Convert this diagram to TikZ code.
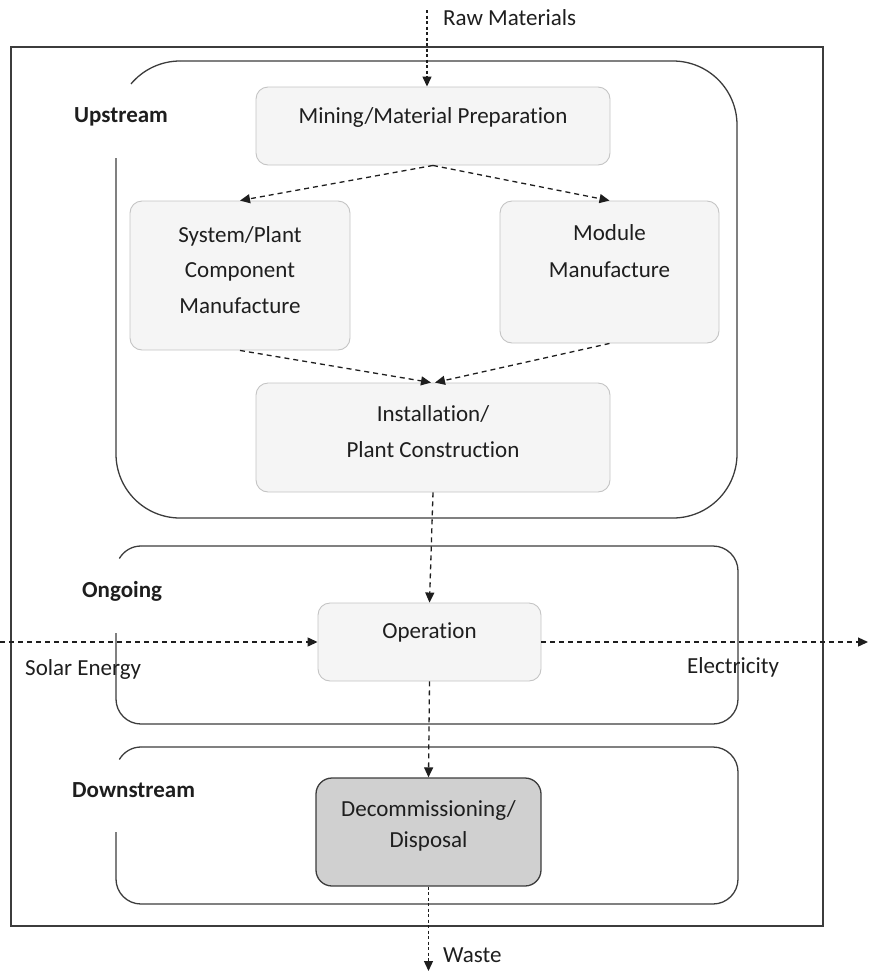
\documentclass[tikz,border=0pt]{standalone}
\usepackage{fontspec}
\setmainfont{Carlito}[Ligatures={NoCommon}]
\usetikzlibrary{arrows.meta}
\definecolor{boxfill}{HTML}{F5F5F5}
\definecolor{boxline}{HTML}{C4C4C4}
\definecolor{darkfill}{HTML}{D0D0D0}
\definecolor{ink}{HTML}{1E1E1E}
\definecolor{frame}{HTML}{3C3C3C}
\begin{document}
\begin{tikzpicture}[x=1pt,y=-1pt,
  lightbox/.style={draw=boxline, line width=0.9pt, fill=boxfill, rounded corners=12pt, inner sep=0pt},
  darkbox/.style={draw=frame, line width=1.3pt, fill=darkfill, rounded corners=16pt, inner sep=0pt},
  boxtext/.style={anchor=base, inner sep=0pt, text=ink, font=\fontsize{23}{28}\selectfont},
  lbl/.style={anchor=base west, inner sep=0pt, text=ink, font=\fontsize{23}{28}\selectfont},
  stage/.style={anchor=base west, inner sep=0pt, text=ink, font=\fontsize{23}{28}\selectfont\bfseries},
  container/.style={draw=frame, line width=1.3pt},
  flow/.style={draw=ink, line width=1.3pt, dash pattern=on 5pt off 4pt, -{Triangle[length=10pt,width=9pt]}},
  fineflow/.style={flow, dash pattern=on 3pt off 2.5pt},
]
\useasboundingbox (0,0) rectangle (869,975);

% outer frame
\draw[container, line width=1.4pt] (11,47) rectangle (823,926);

% stage containers
\draw[container, rounded corners=64pt] (116,158) -- (116,518) -- (737,518) -- (737,61) -- (180,61);
\draw[container] (180,61) .. controls (161.1,61) and (143.2,69.4) .. (131,83.9);

\draw[container, rounded corners=25pt] (116,633) -- (116,724) -- (738,724) -- (738,546) -- (141,546);
\draw[container] (141,546) .. controls (132.07,546) and (123.8,550.8) .. (119.35,558.5);

\draw[container, rounded corners=25pt] (116,832) -- (116,904) -- (738,904) -- (738,747) -- (141,747);
\draw[container] (141,747) .. controls (132.07,747) and (123.8,751.8) .. (119.35,759.5);

% process boxes
\node[lightbox, minimum width=354pt, minimum height=78pt] (mining) at (433,126) {};
\node[lightbox, minimum width=220pt, minimum height=149pt] (system) at (240,275.5) {};
\node[lightbox, minimum width=219pt, minimum height=142pt] (module) at (609.5,272) {};
\node[lightbox, minimum width=354pt, minimum height=109pt] (install) at (433,437.5) {};
\node[lightbox, minimum width=223pt, minimum height=78pt] (op) at (429.5,642) {};
\node[darkbox, minimum width=225pt, minimum height=108pt] (decom) at (428.5,832) {};

% free ends
\coordinate (rawtop) at (427,10);
\coordinate (wasteend) at (428.5,971);
\coordinate (solarstart) at (0,642);
\coordinate (elecend) at (868,642);

% connectors
\draw[fineflow] (rawtop) -- (rawtop |- mining.north);
\draw[flow] (mining.south) -- (system.north);
\draw[flow] (mining.south) -- (module.north);
\draw[flow] (system.south) -- ([xshift=-2pt]install.north);
\draw[flow] (module.south) -- ([xshift=2pt]install.north);
\draw[flow] (install.south) -- (op.north);
\draw[flow] (solarstart) -- (op.west);
\draw[flow] (op.east) -- (elecend);
\draw[flow] (op.south) -- (decom.north);
\draw[fineflow] (decom.south) -- (wasteend);

% box texts
\node[boxtext] (tmining) at (433,123) {Mining/Material Preparation};
\node[boxtext] (tsys1) at (240,242) {System/Plant};
\node[boxtext] (tsys2) at (240,277) {Component};
\node[boxtext] (tsys3) at (240,313) {Manufacture};
\node[boxtext] (tmod1) at (609.5,240) {Module};
\node[boxtext] (tmod2) at (609.5,277) {Manufacture};
\node[boxtext] (tins1) at (433,421) {Installation/};
\node[boxtext] (tins2) at (433,457) {Plant Construction};
\node[boxtext] (top) at (429.5,638) {Operation};
\node[boxtext] (tdec1) at (428.5,816) {Decommissioning/};
\node[boxtext] (tdec2) at (428.5,847) {Disposal};

% labels
\node[lbl] (rawlbl) at (443,25) {Raw Materials};
\node[stage] (upl) at (74,122) {Upstream};
\node[stage] (ongl) at (82,597) {Ongoing};
\node[stage] (downl) at (72,797) {Downstream};
\node[lbl] (solarl) at (25,675) {Solar Energy};
\node[lbl] (elecl) at (687,673) {Electricity};
\node[lbl] (wastel) at (443,962) {Waste};
\end{tikzpicture}
\end{document}
